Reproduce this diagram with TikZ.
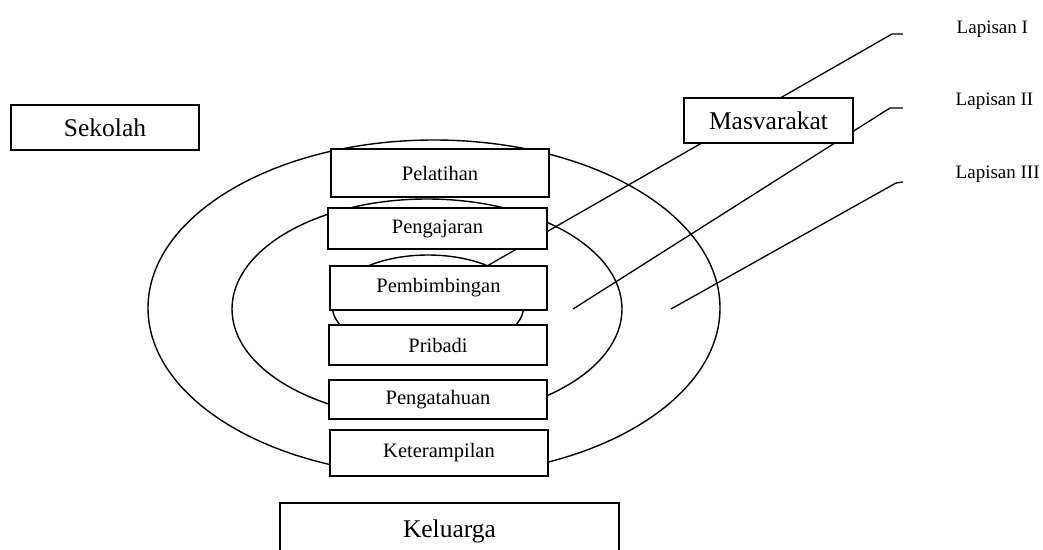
\documentclass[tikz,border=0pt]{standalone}
\usepackage{fontspec}
\setmainfont{Liberation Serif}
\begin{document}
\begin{tikzpicture}[x=1pt,y=-1pt,
  line width=1.4pt,
  ring/.style={draw, line width=1.4pt},
  box/.style={draw, fill=white, inner sep=0pt, font=\fontsize{20.5}{24}\selectfont},
  bigbox/.style={box, font=\fontsize{25.5}{30}\selectfont},
  lbl/.style={anchor=base west, inner sep=0pt, font=\fontsize{19}{22}\selectfont},
  leader/.style={draw, line width=1.3pt}]
\clip (0,0) rectangle (1043,549);
\fill[white] (0,0) rectangle (1043,549);
% layers (ellipses)
\draw[ring] (434,308) ellipse [x radius=286pt, y radius=168pt];
\draw[ring] (427,309) ellipse [x radius=195pt, y radius=110pt];
\draw[ring] (428,305) ellipse [x radius=96pt, y radius=50pt];
% leader line coordinates
\coordinate (l1a) at (903,34);  \coordinate (l1b) at (892,34);  \coordinate (l1c) at (487,266);
\coordinate (l2a) at (903,108); \coordinate (l2b) at (890,108); \coordinate (l2c) at (573,309);
\coordinate (l3a) at (903,182); \coordinate (l3b) at (896,183); \coordinate (l3c) at (671,309);
\draw[leader] (l1a) -- (l1b) -- (l1c);
\draw[leader] (l2a) -- (l2b) -- (l2c);
\draw[leader] (l3a) -- (l3b) -- (l3c);
% boxes
\node[bigbox, minimum width=188pt, minimum height=45pt] (sekolah) at (105,127.5) {Sekolah};
\node[bigbox, minimum width=169pt, minimum height=45pt] (masy) at (768.5,120.5) {Masvarakat};
\node[box, minimum width=218pt, minimum height=48pt] (pel) at (440,173) {Pelatihan};
\node[box, minimum width=219pt, minimum height=41pt] (peng) at (437.5,228.5) {Pengajaran};
\node[box, minimum width=217pt, minimum height=44pt] (pemb) at (438.5,288) {Pembimbingan};
\node[box, minimum width=218pt, minimum height=40pt] (prib) at (438,345) {Pribadi};
\node[box, minimum width=218pt, minimum height=39pt] (penget) at (438,399.5) {Pengatahuan};
\node[box, minimum width=218pt, minimum height=46pt] (ket) at (439,453) {Keterampilan};
\node[bigbox, minimum width=339pt, minimum height=56pt] (kel) at (449.5,531) {Keluarga};
% labels
\node[lbl] (lap1) at (956,33) {Lapisan I};
\node[lbl] (lap2) at (955,105) {Lapisan II};
\node[lbl] (lap3) at (955,178) {Lapisan III};
\end{tikzpicture}
\end{document}
